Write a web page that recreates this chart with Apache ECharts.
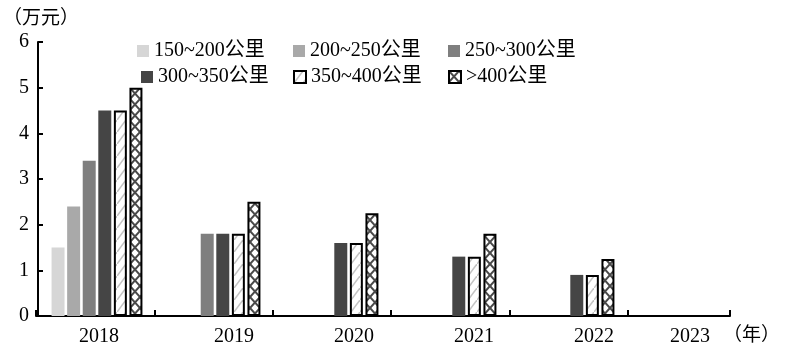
<!DOCTYPE html>
<html>
<head>
<meta charset="utf-8">
<script src="https://cdn.jsdelivr.net/npm/echarts@6/dist/echarts.min.js"></script>
<style>
html,body{margin:0;padding:0;background:#fff;}
#chart{width:786px;height:354px;}
</style>
</head>
<body>
<div id="chart"></div>
<script>
// ---- data ----
const years = ['2018', '2019', '2020', '2021', '2022', '2023'];
const seriesNames = ['150~200公里', '200~250公里', '250~300公里', '300~350公里', '350~400公里', '>400公里'];
const s150_200 = [1.5, null, null, null, null, null];
const s200_250 = [2.4, null, null, null, null, null];
const s250_300 = [3.4, 1.8, null, null, null, null];
const s300_350 = [4.5, 1.8, 1.6, 1.3, 0.9, null];
const s350_400 = [4.5, 1.8, 1.6, 1.3, 0.9, null];
const s400plus = [5.0, 2.5, 2.25, 1.8, 1.25, null];
const yMin = 0, yMax = 6, yStep = 1;
const yUnit = '（万元）';
const xUnit = '（年）';

// ---- patterns ----
function makeTile(w, h, stroke, lw, both) {
  const c = document.createElement('canvas');
  c.width = w; c.height = h;
  const g = c.getContext('2d');
  g.fillStyle = '#fff';
  g.fillRect(0, 0, w, h);
  g.strokeStyle = stroke;
  g.lineWidth = lw;
  g.beginPath();
  g.moveTo(-w, 2 * h); g.lineTo(2 * w, -h);
  if (both) { g.moveTo(-w, -h); g.lineTo(2 * w, 2 * h); }
  g.stroke();
  return c;
}
const hatchLight = { image: makeTile(9, 12, '#c4c4c4', 1.6, false), repeat: 'repeat' };
const crossDark = { image: makeTile(10, 11, '#4a4a4a', 2, true), repeat: 'repeat' };

const FONT = '"Liberation Serif", "Noto Sans CJK SC", serif';
const values = [s150_200, s200_250, s250_300, s300_350, s350_400, s400plus];
const styles = [
  { color: '#d6d6d6' },
  { color: '#a9a9a9' },
  { color: '#7f7f7f' },
  { color: '#454545' },
  { color: hatchLight, borderColor: '#000', borderWidth: 2 },
  { color: crossDark, borderColor: '#000', borderWidth: 2 }
];

const legendPos = [[137, 41], [293, 41], [448, 41], [141, 67], [293, 67], [448, 67]];
const labelShift = [4, 38, 42, 46, 50, 6];
const rich = {};
labelShift.forEach((p, i) => { rich['c' + i] = { padding: [0, 0, 0, p], fontFamily: FONT, fontSize: 20, color: '#000' }; });

const chart = echarts.init(document.getElementById('chart'), null, { renderer: 'canvas' });
chart.setOption({
  animation: false,
  backgroundColor: '#fff',
  grid: [
    { left: 36, right: 40, top: 42, bottom: 38 },
    { left: 36, right: 56, top: 42, bottom: 38 },
    { left: 36, right: 40, top: 42, bottom: 38 }
  ],
  legend: seriesNames.map((n, i) => ({
    data: [n],
    left: legendPos[i][0],
    top: legendPos[i][1],
    icon: 'rect',
    itemWidth: 12,
    itemHeight: 12,
    selectedMode: false,
    padding: 0,
    textStyle: { fontFamily: FONT, fontSize: 20, color: '#000', padding: [2, 0, 0, 0] }
  })),
  xAxis: [
    {
      type: 'category', gridIndex: 0, data: years,
      axisLine: { show: false }, axisTick: { show: false }, splitLine: { show: false },
      axisLabel: {
        margin: 11,
        formatter: (v, i) => '{c' + i + '|' + v + '}',
        rich: rich
      }
    },
    {
      type: 'value', gridIndex: 1, position: 'bottom', min: 0, max: 1, interval: 1,
      axisLine: { show: true, lineStyle: { color: '#000', width: 2 } },
      axisTick: { show: true, inside: true, length: 6, lineStyle: { color: '#000', width: 2 } },
      axisLabel: { show: false }, splitLine: { show: false },
      name: xUnit, nameLocation: 'end', nameGap: -7,
      nameTextStyle: { fontFamily: FONT, fontSize: 19, color: '#000', verticalAlign: 'top', padding: [11, 0, 0, 0] }
    },
    {
      type: 'value', gridIndex: 2, position: 'bottom', min: 0, max: years.length, interval: 1,
      axisLine: { show: false }, axisLabel: { show: false }, splitLine: { show: false },
      axisTick: { show: true, inside: true, length: 6, lineStyle: { color: '#000', width: 2 },
        customValues: years.slice(1).map((_, i) => i + 1) }
    }
  ],
  yAxis: [
    {
      type: 'value', gridIndex: 0, min: yMin, max: yMax, interval: yStep,
      axisLine: { show: true, lineStyle: { color: '#000', width: 2 } },
      axisTick: { show: true, inside: true, length: 5, lineStyle: { color: '#000', width: 2 } },
      splitLine: { show: false },
      axisLabel: { margin: 9, fontFamily: FONT, fontSize: 20, color: '#000' },
      name: yUnit, nameLocation: 'end', nameGap: 13,
      nameTextStyle: { fontFamily: FONT, fontSize: 19, color: '#000', padding: [0, 0, 0, 6] }
    },
    { type: 'value', gridIndex: 1, show: false, min: 0, max: 1 },
    { type: 'value', gridIndex: 2, show: false, min: 0, max: 1 }
  ],
  series: seriesNames.map((n, i) => ({
    name: n, type: 'bar', xAxisIndex: 0, yAxisIndex: 0,
    data: values[i],
    barGap: '20%', barCategoryGap: '23%',
    itemStyle: styles[i],
    emphasis: { disabled: true }
  }))
});
</script>
</body>
</html>
